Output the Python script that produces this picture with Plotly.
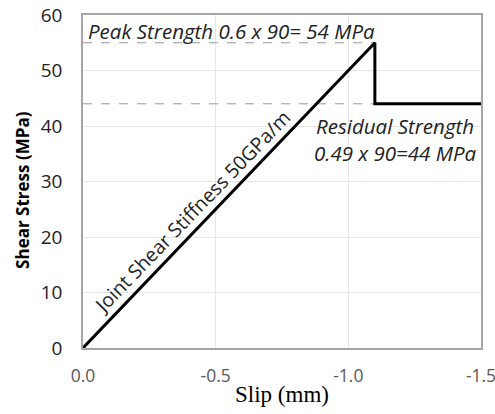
import plotly.graph_objects as go

slip = [0.0, -1.1, -1.1, -1.5]
stress = [0, 55, 44, 44]
peak_slip = [0.0, -1.1]
peak_stress = [55, 55]
resid_slip = [0.0, -1.1]
resid_stress = [44, 44]
x_ticks = [0.0, -0.5, -1.0, -1.5]
x_tick_text = ["0.0", "-0.5", "-1.0", "-1.5"]
y_ticks = [0, 10, 20, 30, 40, 50, 60]

fig = go.Figure()
fig.add_trace(go.Scatter(x=peak_slip, y=peak_stress, mode="lines",
                         line=dict(color="#999999", width=1, dash="dash"), showlegend=False))
fig.add_trace(go.Scatter(x=resid_slip, y=resid_stress, mode="lines",
                         line=dict(color="#999999", width=1, dash="dash"), showlegend=False))
fig.add_trace(go.Scatter(x=slip, y=stress, mode="lines",
                         line=dict(color="black", width=3), showlegend=False))

fig.add_annotation(x=-0.01, y=57.2, xref="x", yref="y", xanchor="left", yanchor="middle",
                   text="<i>Peak Strength 0.6 x 90= 54 MPa</i>", showarrow=False,
                   font=dict(family="Open Sans", size=20.5, color="#222222"))
fig.add_annotation(x=-1.174, y=37.5, xref="x", yref="y", xanchor="center", yanchor="middle",
                   text="<i>Residual Strength<br>0.49 x 90=44 MPa</i>", showarrow=False, align="center",
                   font=dict(family="Open Sans", size=20.5, color="#222222"))
fig.add_annotation(x=-0.41, y=24.6, xref="x", yref="y", xanchor="center", yanchor="middle",
                   text="Joint Shear Stiffness 50GPa/m", showarrow=False, textangle=-46,
                   font=dict(family="Open Sans", size=19.5, color="#222222"))
fig.add_annotation(x=-0.151, y=0.4745, xref="paper", yref="paper", xanchor="center", yanchor="middle",
                   text="<b>Shear Stress (MPa)</b>", showarrow=False, textangle=-90,
                   font=dict(family="Open Sans", size=17, color="black"))

fig.update_layout(
    width=495, height=414,
    margin=dict(l=83, r=14, t=15, b=66),
    paper_bgcolor="white", plot_bgcolor="white",
    xaxis=dict(range=[0, -1.5], tickvals=x_ticks, ticktext=x_tick_text,
               showgrid=True, gridcolor="#e6e6e6", gridwidth=1,
               showline=True, linecolor="#a6a6a6", linewidth=1.5, mirror=True,
               zeroline=False, ticks="", automargin=False, ticklabelstandoff=11,
               ticklabeloverflow="allow",
               tickfont=dict(family="Open Sans", size=17.5, color="#595959"),
               title=dict(text="Slip (mm)", font=dict(family="Liberation Serif", size=23, color="black"),
                          standoff=0)),
    yaxis=dict(range=[0, 60], tickvals=y_ticks,
               showgrid=True, gridcolor="#e6e6e6", gridwidth=1,
               showline=True, linecolor="#a6a6a6", linewidth=1.5, mirror=True,
               zeroline=False, ticks="", automargin=False, ticklabelstandoff=15,
               ticklabeloverflow="allow",
               tickfont=dict(family="Open Sans", size=19, color="#222222")),
)

fig.write_html("out.html")
